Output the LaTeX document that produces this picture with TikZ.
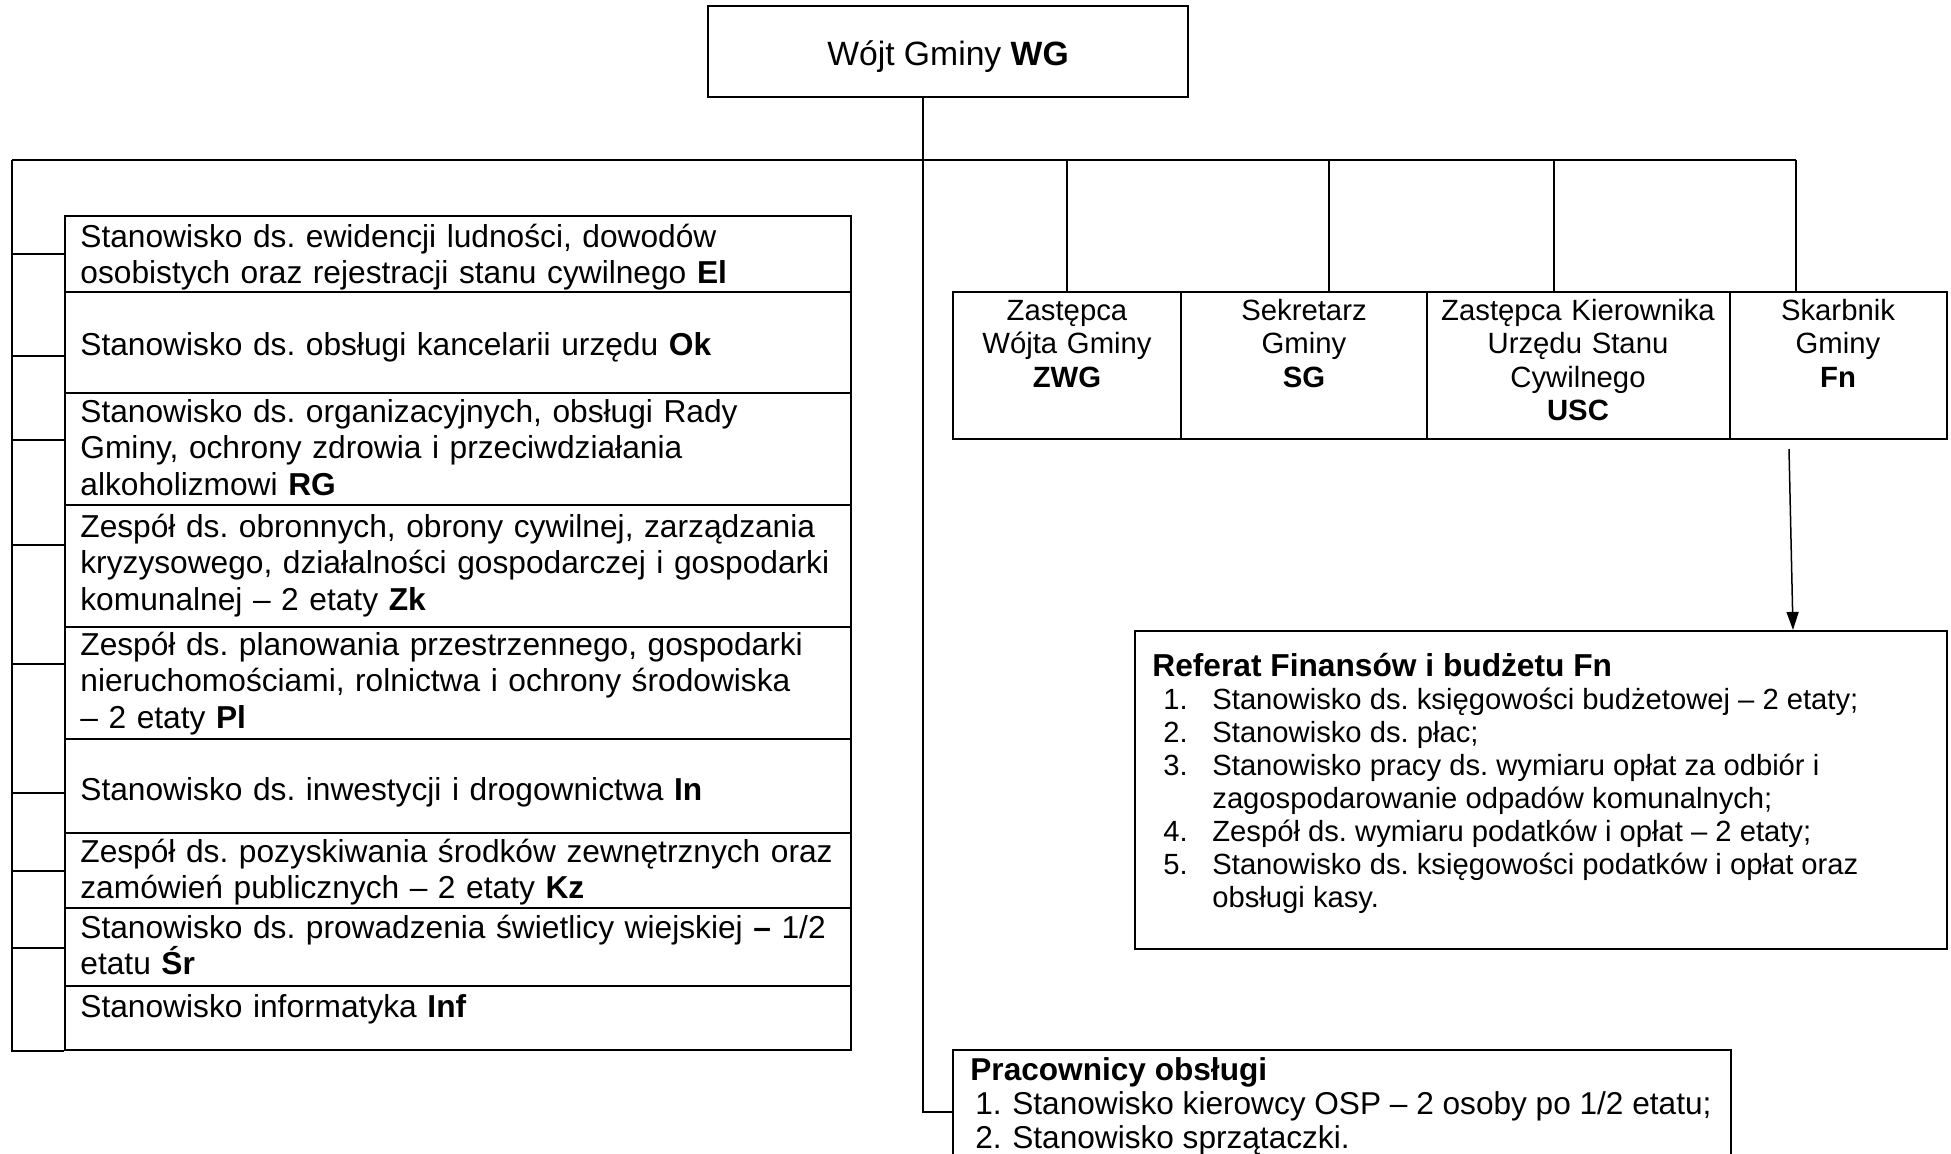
\documentclass[tikz,border=0pt]{standalone}
\usepackage{fontspec}
\setmainfont{Liberation Sans}
\usetikzlibrary{fit,arrows.meta}
\frenchspacing
\begin{document}
\frenchspacing
\begin{tikzpicture}[x=0.5pt,y=-0.5pt,
  ln/.style={line width=1.1pt},
  thinln/.style={line width=0.75pt},
  box/.style={draw, line width=1.1pt, inner sep=0pt, rectangle},
  lt/.style={anchor=base west, inner sep=0pt, text width=384pt, align=left,
             font=\fontsize{15.85}{18.35}\selectfont},
  rt/.style={anchor=base, inner sep=0pt, text width=150pt, align=center,
             font=\fontsize{14.65}{16.75}\selectfont},
  listnode/.style={anchor=base west, inner sep=0pt}
]
\useasboundingbox (0,0) rectangle (1951,1153);
\clip (0,0) rectangle (1951,1153);
\fill[white] (0,0) rectangle (1951,1153);

% head
\node[box, fit={(708,6)(1188,97)}] (wg) {};
\node[anchor=base, inner sep=0pt, font=\fontsize{16.85}{19}\selectfont] (wgt) at (948,65) {Wójt Gminy \textbf{WG}};

% bus
\coordinate (busL) at (12,160);
\coordinate (busR) at (1796,160);
\draw[ln] (busL) -- (busR);

% left list
\node[box, fit={(65,216)(851,292)}]  (r1) {};
\node[box, fit={(65,292)(851,393)}]  (r2) {};
\node[box, fit={(65,393)(851,505)}]  (r3) {};
\node[box, fit={(65,505)(851,627)}]  (r4) {};
\node[box, fit={(65,627)(851,739)}]  (r5) {};
\node[box, fit={(65,739)(851,833)}]  (r6) {};
\node[box, fit={(65,833)(851,908)}]  (r7) {};
\node[box, fit={(65,908)(851,986)}]  (r8) {};
\node[box, fit={(65,986)(851,1050)}] (r9) {};

\draw[ln] (busL) |- (r9.south west);
\foreach \yy in {254,356,440,545,664,793,871,948}
  \draw[ln] (busL |- 0,\yy) -- (r1.west |- 0,\yy);

\node[lt] (t1) at (80,247) {Stanowisko ds. ewidencji ludności, dowodów\\osobistych oraz rejestracji stanu cywilnego \textbf{El}};
\node[lt] (t2) at (80,355) {Stanowisko ds. obsługi kancelarii urzędu \textbf{Ok}};
\node[lt] (t3) at (80,422) {Stanowisko ds. organizacyjnych, obsługi Rady\\Gminy, ochrony zdrowia i przeciwdziałania\\alkoholizmowi \textbf{RG}};
\node[lt] (t4) at (80,537) {Zespół ds. obronnych, obrony cywilnej, zarządzania\\kryzysowego, działalności gospodarczej i gospodarki\\komunalnej – 2 etaty \textbf{Zk}};
\node[lt] (t5) at (80,655) {Zespół ds. planowania przestrzennego, gospodarki\\nieruchomościami, rolnictwa i ochrony środowiska\\– 2 etaty \textbf{Pl}};
\node[lt] (t6) at (80,800) {Stanowisko ds. inwestycji i drogownictwa \textbf{In}};
\node[lt] (t7) at (80,862) {Zespół ds. pozyskiwania środków zewnętrznych oraz\\zamówień publicznych – 2 etaty \textbf{Kz}};
\node[lt] (t8) at (80,938) {Stanowisko ds. prowadzenia świetlicy wiejskiej \textbf{–} 1/2\\etatu \textbf{Śr}};
\node[lt] (t9) at (80,1017) {Stanowisko informatyka \textbf{Inf}};

% right boxes
\node[box, fit={(953,292)(1181,439)}]  (zwg) {};
\node[box, fit={(1181,292)(1427,439)}] (sg) {};
\node[box, fit={(1427,292)(1730,439)}] (usc) {};
\node[box, fit={(1730,292)(1947,439)}] (fn) {};

\draw[ln] (busL -| zwg.north) -- (zwg.north);
\draw[ln] (busL -| 1329,0) -- (sg.north -| 1329,0);
\draw[ln] (busL -| 1554,0) -- (usc.north -| 1554,0);
\draw[ln] (busR) -- (fn.north -| busR);

\node[rt] (zwgt) at (1067,320) {Zastępca\\Wójta Gminy\\\textbf{ZWG}};
\node[rt] (sgt)  at (1304,320) {Sekretarz\\Gminy\\\textbf{SG}};
\node[rt] (usct) at (1578,320) {Zastępca Kierownika\\Urzędu Stanu\\Cywilnego\\\textbf{USC}};
\node[rt] (fnt)  at (1838,320) {Skarbnik\\Gminy\\\textbf{Fn}};

% Referat
\node[box, fit={(1135,631)(1947,949)}] (ref) {};
\coordinate (a1) at (1789,449);
\draw[thinln, -{Triangle[width=6pt,length=9pt]}] (a1) -- ([xshift=126pt]ref.north);
\node[listnode, font=\fontsize{15.85}{16.5}\selectfont\bfseries] (reft) at (1152,676) {Referat Finansów i budżetu Fn};
\node[listnode, font=\fontsize{14.6}{16.5}\selectfont] (refl) at (1163,709) {\begin{tabular}[t]{@{}p{24.5pt}@{}l@{}}
1. & Stanowisko ds. księgowości budżetowej – 2 etaty;\\
2. & Stanowisko ds. płac;\\
3. & Stanowisko pracy ds. wymiaru opłat za odbiór i\\
   & zagospodarowanie odpadów komunalnych;\\
4. & Zespół ds. wymiaru podatków i opłat – 2 etaty;\\
5. & Stanowisko ds. księgowości podatków i opłat oraz\\
   & obsługi kasy.
\end{tabular}};

% Pracownicy
\node[box, fit={(953,1050)(1731,1250)}] (prac) {};
\draw[ln] ([xshift=-12.5pt]wg.south) |- (prac.west |- 0,1112);
\node[listnode, font=\fontsize{15.8}{17}\selectfont\bfseries] (pract) at (970,1080) {Pracownicy obsługi};
\node[listnode, font=\fontsize{15.8}{17}\selectfont] (pracl) at (975,1114) {\begin{tabular}[t]{@{}p{18.5pt}@{}l@{}}
1. & Stanowisko kierowcy OSP – 2 osoby po 1/2 etatu;\\
2. & Stanowisko sprzątaczki.
\end{tabular}};
\end{tikzpicture}
\end{document}
